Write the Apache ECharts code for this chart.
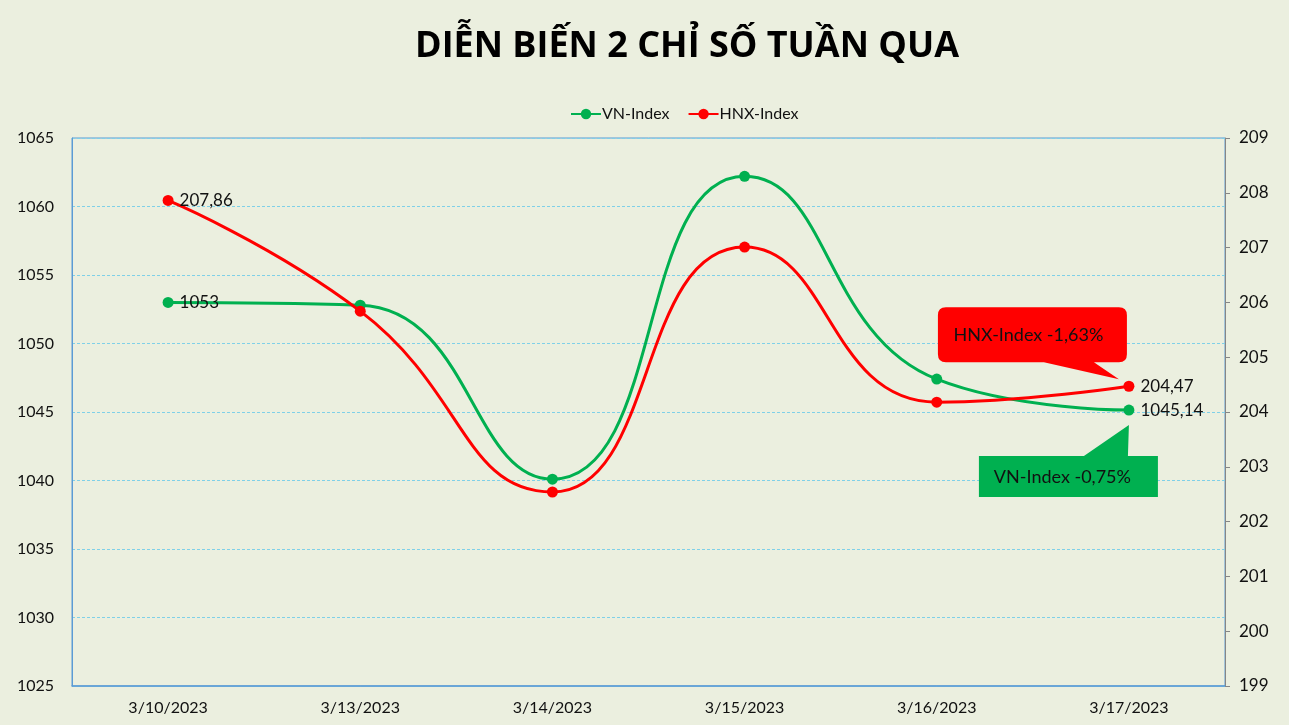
<!DOCTYPE html>
<html><head><meta charset="utf-8">
<script src="https://cdn.jsdelivr.net/npm/echarts@6/dist/echarts.min.js"></script>
<style>html,body{margin:0;padding:0;background:#EBEFDF;}#c{width:1289px;height:725px;}</style>
</head><body><div id="c"></div>
<script>
var categories = ['3/10/2023','3/13/2023','3/14/2023','3/15/2023','3/16/2023','3/17/2023'];
var vnIndex = [1053, 1052.8, 1040.1, 1062.2, 1047.4, 1045.14];
var hnxIndex = [207.86, 205.84, 202.54, 207.01, 204.18, 204.47];
var leftTicks = {min:1025, max:1065, interval:5};
var rightTicks = {min:199, max:209, interval:1};
var labelIdx = [0, 5];
var vnCallout = 'VN-Index -0,75%';
var hnxCallout = 'HNX-Index -1,63%';

var FONT = 'Lato, "Noto Sans", sans-serif';
var TXT = '#111';
function fmt(v){ return String(v).replace('.', ','); }
function withLabels(arr){
  return arr.map(function(v,i){
    if(labelIdx.indexOf(i) >= 0){
      return {value:v, label:{show:true, position:'right', distance:6, formatter:function(p){return fmt(p.value);}, color:TXT, fontSize:17, fontFamily:FONT}};
    }
    return v;
  });
}
var hnxPath = 'path://M8,0 L181,0 Q189,0 189,8 L189,47 Q189,55 181,55 L156,55 L181,72 L106,55 L8,55 Q0,55 0,47 L0,8 Q0,0 8,0 Z';
var vnPath = 'path://M150,0 L149,31 L179,31 L179,72 L0,72 L0,31 L105,31 Z';

var chart = echarts.init(document.getElementById('c'));
chart.setOption({
  backgroundColor:'#EBEFDF',
  animation:false,
  title:{text:'DIỄN BIẾN 2 CHỈ SỐ TUẦN QUA', left:410, top:24,
    textStyle:{fontFamily:'"Open Sans", "Noto Sans", sans-serif', fontWeight:'bold', fontSize:36, color:'#000'}},
  legend:{top:101, left:565, itemWidth:30, itemHeight:13, itemGap:18,
    textStyle:{fontFamily:FONT, fontSize:16, color:TXT, padding:[0,0,0,-4]},
    data:['VN-Index','HNX-Index']},
  grid:{left:72, right:64, top:138, bottom:39, show:true, borderColor:'#5B9BD5', borderWidth:1, containLabel:false},
  xAxis:{type:'category', data:categories, boundaryGap:true,
    axisLine:{show:true, lineStyle:{color:'#5B9BD5', width:1.5}}, axisTick:{show:false},
    axisLabel:{fontFamily:FONT, fontSize:16, color:TXT, margin:14}},
  yAxis:[
    {type:'value', min:leftTicks.min, max:leftTicks.max, interval:leftTicks.interval,
     axisLine:{show:true, lineStyle:{color:'#5B9BD5'}}, axisTick:{show:false},
     axisLabel:{fontFamily:FONT, fontSize:16, color:TXT, margin:18, formatter:function(v){return String(v);}},
     splitLine:{show:true, lineStyle:{color:'#7FD0E8', type:[3,2], width:1}}},
    {type:'value', min:rightTicks.min, max:rightTicks.max, interval:rightTicks.interval, position:'right',
     axisLine:{show:true, lineStyle:{color:'#868686'}}, axisTick:{show:true, length:5, lineStyle:{color:'#868686'}},
     axisLabel:{fontFamily:FONT, fontSize:17, color:TXT, margin:14, formatter:function(v){return String(v);}},
     splitLine:{show:false}}
  ],
  series:[
    {name:'VN-Index', type:'line', yAxisIndex:0, smooth:0.5, data:withLabels(vnIndex),
     symbol:'circle', symbolSize:11, itemStyle:{color:'#00B050'}, lineStyle:{width:3, color:'#00B050'}, z:3,
     markPoint:{symbol:vnPath, symbolSize:[179,72], symbolKeepAspect:false, symbolOffset:[-60.5,51], silent:true,
       itemStyle:{color:'#00B050'},
       label:{show:true, position:'inside', offset:[-6,16], formatter:vnCallout, color:TXT, fontSize:18, fontFamily:FONT},
       data:[{coord:[categories.length-1, vnIndex[vnIndex.length-1]]}]}},
    {name:'HNX-Index', type:'line', yAxisIndex:1, smooth:0.5, data:withLabels(hnxIndex),
     symbol:'circle', symbolSize:11, itemStyle:{color:'#FF0000'}, lineStyle:{width:3, color:'#FF0000'}, z:4,
     markPoint:{symbol:hnxPath, symbolSize:[189,72], symbolKeepAspect:false, symbolOffset:[-96.5,-43], silent:true,
       itemStyle:{color:'#FF0000'},
       label:{show:true, position:'inside', offset:[-4,-8], formatter:hnxCallout, color:TXT, fontSize:18, fontFamily:FONT},
       data:[{coord:[categories.length-1, hnxIndex[hnxIndex.length-1]]}]}}
  ]
});
</script></body></html>
